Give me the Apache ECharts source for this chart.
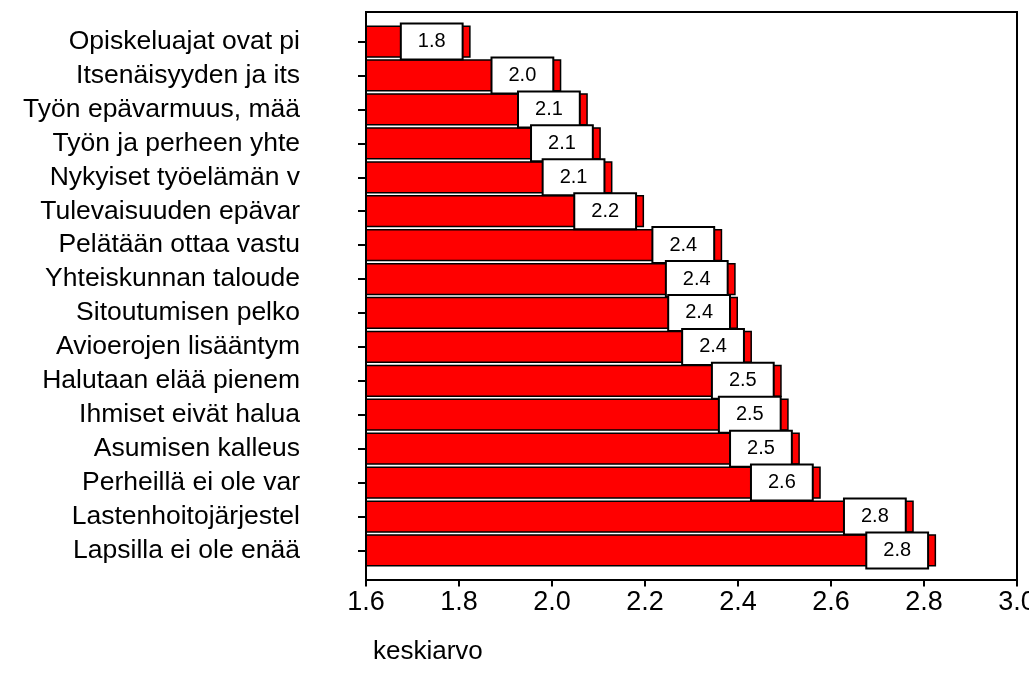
<!DOCTYPE html>
<html>
<head>
<meta charset="utf-8">
<script src="https://cdn.jsdelivr.net/npm/echarts@6/dist/echarts.min.js"></script>
<style>
  html, body { margin: 0; padding: 0; background: #fff; overflow: hidden; }
  #chart { width: 1029px; height: 683px; }
</style>
</head>
<body>
<div id="chart"></div>
<script>
var categories = [
  "Opiskeluajat ovat pi",
  "Itsenäisyyden ja its",
  "Työn epävarmuus, mää",
  "Työn ja perheen yhte",
  "Nykyiset työelämän v",
  "Tulevaisuuden epävar",
  "Pelätään ottaa vastu",
  "Yhteiskunnan taloude",
  "Sitoutumisen pelko",
  "Avioerojen lisääntym",
  "Halutaan elää pienem",
  "Ihmiset eivät halua",
  "Asumisen kalleus",
  "Perheillä ei ole var",
  "Lastenhoitojärjestel",
  "Lapsilla ei ole enää"
];
var values = [1.825, 2.02, 2.077, 2.105, 2.13, 2.198, 2.366, 2.395, 2.40, 2.43, 2.494, 2.509, 2.533, 2.578, 2.778, 2.826];
var xTicks = [1.6, 3.0, 0.2]; // min, max, step
var axisTitle = "keskiarvo";

var chart = echarts.init(document.getElementById("chart"));
var font = "Liberation Sans, Arial, sans-serif";

var option = {
  backgroundColor: "#fff",
  animation: false,
  title: {
    text: axisTitle,
    left: 368,
    top: 634,
    textStyle: { fontFamily: font, fontSize: 26, fontWeight: "normal", color: "#000" }
  },
  grid: {
    left: 366, right: 12, top: 24.6, bottom: 115.6,
    containLabel: false,
    outerBoundsMode: "none"
  },
  xAxis: {
    type: "value",
    min: xTicks[0],
    max: xTicks[1],
    interval: xTicks[2],
    offset: 13,
    axisLine: { show: false },
    axisTick: { show: true, length: 6, lineStyle: { color: "#000", width: 2 } },
    splitLine: { show: false },
    axisLabel: {
      margin: 9,
      fontFamily: font,
      fontSize: 27,
      color: "#000",
      hideOverlap: false,
      formatter: function (v) { return v.toFixed(1); }
    }
  },
  yAxis: {
    type: "category",
    inverse: true,
    data: categories,
    axisLine: { show: false },
    axisTick: { show: true, alignWithLabel: true, interval: 0, length: 8, lineStyle: { color: "#000", width: 2 } },
    axisLabel: { interval: 0, margin: 66, fontFamily: font, fontSize: 26.5, color: "#000" }
  },
  series: [
    {
      type: "bar",
      data: values,
      barWidth: "95%",
      itemStyle: { color: "#ff0000", borderColor: "#000", borderWidth: 1.5 },
      label: {
        show: true,
        position: "insideRight",
        distance: 9,
        fontFamily: font,
        fontSize: 20,
        lineHeight: 20,
        color: "#000",
        backgroundColor: "#fff",
        borderColor: "#000",
        borderWidth: 2,
        padding: [7, 16],
        formatter: function (p) { return p.value.toFixed(1); }
      }
    }
  ],
  graphic: [
    {
      type: "rect",
      silent: true,
      z: 100,
      shape: { x: 366, y: 12, width: 651, height: 568 },
      style: { fill: null, stroke: "#000", lineWidth: 2 }
    }
  ]
};
chart.setOption(option);
</script>
</body>
</html>
